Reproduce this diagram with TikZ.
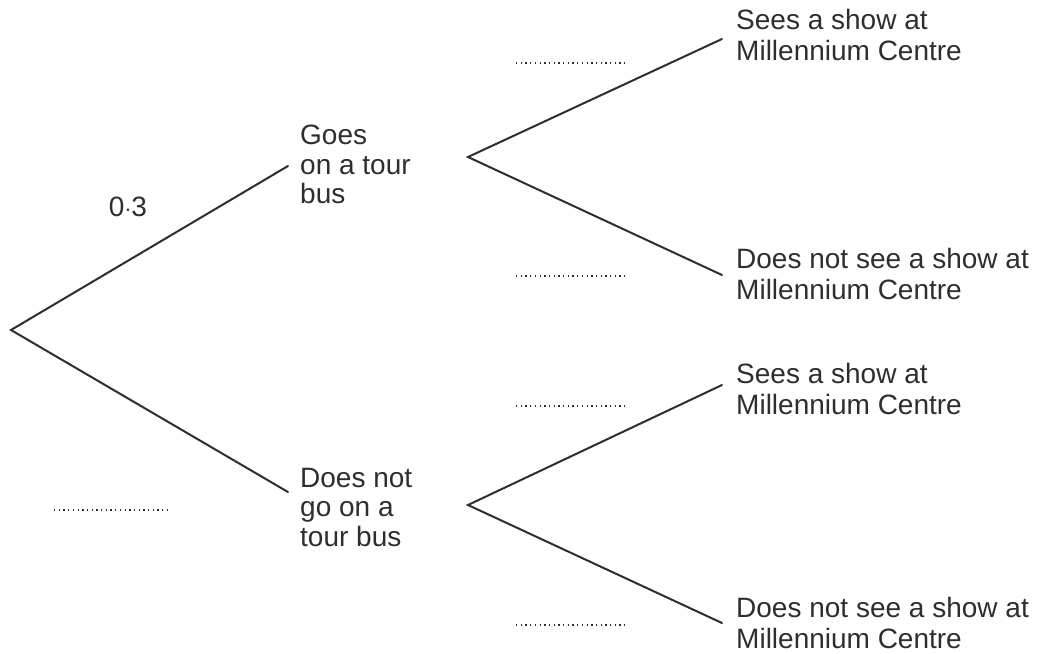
\documentclass[tikz,border=0pt]{standalone}
\usepackage{fontspec}
\setmainfont{Liberation Sans}
\definecolor{ink}{HTML}{2E2E2E}
\begin{document}
\begin{tikzpicture}[x=1pt,y=-1pt,
  branch/.style={draw=ink,line width=2pt,line cap=round},
  blank/.style={draw=ink,line width=1.3pt,dash pattern=on 1.3pt off 3.4pt},
  lbl/.style={anchor=north west,inner sep=0pt,align=left,text=ink,font=\fontsize{28}{29.5}\selectfont},
  rlbl/.style={lbl,font=\fontsize{28}{31}\selectfont}]
\useasboundingbox (0,0) rectangle (1040,653);
% branch points
\coordinate (r) at (11,330);
\coordinate (a) at (288,166);
\coordinate (b) at (288,492);
\coordinate (a1) at (468,157);
\coordinate (b1) at (468,505);
\coordinate (aa) at (722,39);
\coordinate (ab) at (722,275);
\coordinate (ba) at (722,385);
\coordinate (bb) at (722,623);
% connectors
\draw[branch] (a) -- (r) -- (b);
\draw[branch] (aa) -- (a1) -- (ab);
\draw[branch] (ba) -- (b1) -- (bb);
% labels
\node[lbl] (tour) at (300,125) {Goes\\on a tour\\bus};
\node[lbl] (notour) at (300,468) {Does not\\go on a\\tour bus};
\node[rlbl] (s1) at (736,9) {Sees a show at\\Millennium Centre};
\node[rlbl] (n1) at (736,248) {Does not see a show at\\Millennium Centre};
\node[rlbl] (s2) at (736,363) {Sees a show at\\Millennium Centre};
\node[rlbl] (n2) at (736,597) {Does not see a show at\\Millennium Centre};
\node[text=ink,inner sep=0pt,font=\fontsize{28}{31}\selectfont] (p) at (128,207) {0$\cdot$3};
% blanks
\coordinate (d0s) at (54,510); \coordinate (d0e) at (167,510);
\coordinate (d1s) at (516,63); \coordinate (d1e) at (628,63);
\coordinate (d2s) at (516,276); \coordinate (d2e) at (628,276);
\coordinate (d3s) at (516,406); \coordinate (d3e) at (628,406);
\coordinate (d4s) at (516,625); \coordinate (d4e) at (628,625);
\draw[blank] (d0s) -- (d0e);
\draw[blank] (d1s) -- (d1e);
\draw[blank] (d2s) -- (d2e);
\draw[blank] (d3s) -- (d3e);
\draw[blank] (d4s) -- (d4e);
\end{tikzpicture}
\end{document}
